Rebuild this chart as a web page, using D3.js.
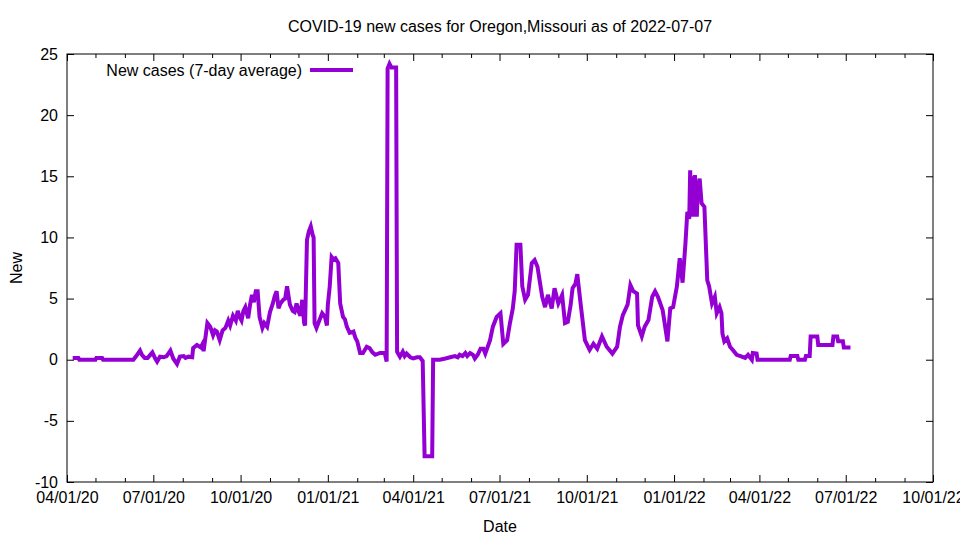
<!DOCTYPE html>
<html>
<head>
<meta charset="utf-8">
<script src="https://cdn.jsdelivr.net/npm/d3@7"></script>
<style>
  body { margin: 0; background: #fff; }
  text { font-family: "Liberation Sans", Arial, sans-serif; }
</style>
</head>
<body>
<div id="chart"></div>
<script>
// data (7-day average of new cases)
const dates = [
  "2020-04-07","2020-04-13","2020-04-14","2020-05-01","2020-05-02","2020-05-08","2020-05-09","2020-06-10",
  "2020-06-13","2020-06-17","2020-06-19","2020-06-22","2020-06-25","2020-06-30","2020-07-03","2020-07-05",
  "2020-07-08","2020-07-12","2020-07-15","2020-07-19","2020-07-22","2020-07-26","2020-07-29","2020-08-02",
  "2020-08-04","2020-08-07","2020-08-11","2020-08-12","2020-08-16","2020-08-20","2020-08-22","2020-08-23",
  "2020-08-27","2020-08-30","2020-09-02","2020-09-04","2020-09-06","2020-09-09","2020-09-12","2020-09-15",
  "2020-09-18","2020-09-20","2020-09-23","2020-09-26","2020-09-28","2020-09-30","2020-10-02","2020-10-04",
  "2020-10-06","2020-10-09","2020-10-11","2020-10-13","2020-10-15","2020-10-17","2020-10-19","2020-10-21",
  "2020-10-24","2020-10-26","2020-10-29","2020-11-01","2020-11-04","2020-11-06","2020-11-08","2020-11-10",
  "2020-11-12","2020-11-15","2020-11-17","2020-11-19","2020-11-22","2020-11-25","2020-11-27","2020-11-29",
  "2020-12-01","2020-12-03","2020-12-05","2020-12-07","2020-12-08","2020-12-10","2020-12-12","2020-12-14",
  "2020-12-16","2020-12-17","2020-12-18","2020-12-20","2020-12-22","2020-12-26","2020-12-29","2020-12-31",
  "2021-01-01","2021-01-03","2021-01-05","2021-01-07","2021-01-09","2021-01-12","2021-01-14","2021-01-17",
  "2021-01-19","2021-01-21","2021-01-24","2021-01-28","2021-01-30","2021-02-01","2021-02-04","2021-02-07",
  "2021-02-11","2021-02-14","2021-02-17","2021-02-20","2021-02-25","2021-03-02","2021-03-04","2021-03-05",
  "2021-03-07","2021-03-09","2021-03-14","2021-03-15","2021-03-18","2021-03-21","2021-03-23","2021-03-25",
  "2021-03-29","2021-04-01","2021-04-05","2021-04-08","2021-04-11","2021-04-13","2021-04-21","2021-04-22",
  "2021-04-29","2021-05-05","2021-05-10","2021-05-15","2021-05-18","2021-05-20","2021-05-23","2021-05-26",
  "2021-05-28","2021-05-31","2021-06-03","2021-06-05","2021-06-08","2021-06-11","2021-06-14","2021-06-16",
  "2021-06-21","2021-06-24","2021-06-28","2021-07-02","2021-07-05","2021-07-09","2021-07-12","2021-07-15",
  "2021-07-17","2021-07-19","2021-07-23","2021-07-25","2021-07-28","2021-07-31","2021-08-04","2021-08-07",
  "2021-08-10","2021-08-15","2021-08-18","2021-08-21","2021-08-25","2021-08-28","2021-09-01","2021-09-05",
  "2021-09-08","2021-09-11","2021-09-14","2021-09-16","2021-09-19","2021-09-21","2021-09-24","2021-09-29",
  "2021-10-04","2021-10-08","2021-10-12","2021-10-17","2021-10-22","2021-10-28","2021-11-02","2021-11-05",
  "2021-11-08","2021-11-13","2021-11-16","2021-11-19","2021-11-23","2021-11-24","2021-11-28","2021-12-01",
  "2021-12-05","2021-12-09","2021-12-12","2021-12-15","2021-12-20","2021-12-25","2021-12-28","2021-12-31",
  "2022-01-04","2022-01-07","2022-01-10","2022-01-13","2022-01-15","2022-01-17","2022-01-18","2022-01-19",
  "2022-01-20","2022-01-21","2022-01-23","2022-01-25","2022-01-26","2022-01-28","2022-01-30","2022-02-02",
  "2022-02-05","2022-02-07","2022-02-10","2022-02-13","2022-02-15","2022-02-18","2022-02-20","2022-02-21",
  "2022-02-23","2022-02-26","2022-03-01","2022-03-04","2022-03-08","2022-03-12","2022-03-17","2022-03-20",
  "2022-03-24","2022-03-25","2022-03-29","2022-03-30","2022-05-03","2022-05-04","2022-05-11","2022-05-12",
  "2022-05-19","2022-05-20","2022-05-24","2022-05-25","2022-06-01","2022-06-02","2022-06-17","2022-06-18",
  "2022-06-22","2022-06-23","2022-06-28","2022-06-29","2022-07-06"
];
const newCases = [
  0.15,0.15,0,0,0.15,0.15,0,0,
  0.3,0.75,0.4,0.15,0.15,0.6,0.1,-0.15,
  0.25,0.2,0.3,0.75,0.1,-0.35,0.25,0.3,
  0.15,0.25,0.2,0.95,1.2,1.0,1.3,0.7,
  3.0,2.7,2.0,2.4,2.3,1.6,2.4,2.6,
  3.2,2.8,3.6,3.2,4.0,3.5,3.2,4.0,
  4.3,3.4,4.5,5.3,4.7,5.6,5.6,3.5,
  2.6,3.0,2.7,3.9,4.6,5.2,5.6,4.2,
  4.6,4.9,5.0,6.0,4.5,4.0,3.9,4.6,
  4.0,3.6,4.9,3.0,2.8,9.8,10.5,10.9,
  10.2,10.0,3.0,2.6,3.0,3.8,3.5,2.8,
  4.5,6.0,8.4,8.2,8.3,7.9,4.6,3.5,
  3.3,2.7,2.2,2.3,1.8,1.5,0.55,0.55,
  1.06,0.95,0.6,0.4,0.55,0.55,-0.15,23.8,
  24.2,23.9,23.9,0.65,0.25,0.65,0.3,0.5,
  0.2,0.1,0.2,0.2,-0.1,-7.9,-7.9,0,
  0,0.1,0.2,0.3,0.2,0.4,0.3,0.55,
  0.3,0.55,0.4,0.1,0.4,0.9,0.9,0.5,
  1.6,2.7,3.5,3.8,1.3,1.6,3.0,4.2,
  5.6,9.4,9.4,6.0,4.9,5.3,7.9,8.15,
  7.6,5.15,4.3,5.3,4.2,5.85,4.6,5.3,
  3.0,3.1,4.5,5.85,6.2,7.0,4.9,1.6,
  0.8,1.3,0.9,1.9,1.06,0.5,1.06,2.7,
  3.65,4.5,6.1,5.6,5.4,2.8,1.9,2.7,
  3.25,5.15,5.6,5.15,4.05,1.5,4.2,4.3,
  6.0,8.3,6.3,9.5,12.1,11.5,15.5,11.8,
  15.0,11.7,15.1,11.7,14.0,14.8,12.8,12.5,
  6.5,6.0,4.6,5.15,3.8,4.3,3.8,2.15,
  1.5,1.75,1.06,0.8,0.4,0.3,0.15,0.4,
  0,0.55,0.5,0,0,0.3,0.3,0,
  0,0.3,0.3,1.9,1.9,1.2,1.2,1.9,
  1.9,1.5,1.5,1.0,1.0
];
const xTicks = ["2020-04-01","2020-07-01","2020-10-01","2021-01-01","2021-04-01","2021-07-01",
                "2021-10-01","2022-01-01","2022-04-01","2022-07-01","2022-10-01"];
const yTicks = [-10, -5, 0, 5, 10, 15, 20, 25];

const W = 960, H = 540;
const margin = {top: 54, right: 27, bottom: 58, left: 67};
const width = W - margin.left - margin.right;
const height = H - margin.top - margin.bottom;
const parse = d3.timeParse("%Y-%m-%d");
const color = "#9400d3";

const svg = d3.select("#chart").append("svg")
  .attr("width", W).attr("height", H);
const g = svg.append("g")
  .attr("transform", "translate(" + margin.left + "," + margin.top + ")");

const x = d3.scaleTime()
  .domain([parse(xTicks[0]), parse(xTicks[xTicks.length - 1])])
  .range([0, width]);
const y = d3.scaleLinear()
  .domain([yTicks[0], yTicks[yTicks.length - 1]])
  .range([height, 0]);

const majors = xTicks.map(parse);
const minors = d3.timeMonth.range(majors[0], majors[majors.length - 1])
  .filter(d => d.getMonth() % 3 !== 0);

// minor monthly ticks, bottom and top
g.append("g").attr("transform", "translate(0," + height + ")")
  .call(d3.axisBottom(x).tickValues(minors).tickSize(-4).tickFormat(""));
g.append("g")
  .call(d3.axisTop(x).tickValues(minors).tickSize(-4).tickFormat(""));

g.append("g").attr("transform", "translate(0," + height + ")")
  .call(d3.axisBottom(x).tickValues(majors).tickSize(-7).tickPadding(10)
    .tickFormat(d3.timeFormat("%m/%d/%y")));
g.append("g")
  .call(d3.axisTop(x).tickValues(majors).tickSize(-7).tickFormat(""));
g.append("g")
  .call(d3.axisLeft(y).tickValues(yTicks).tickSize(-7).tickPadding(9)
    .tickFormat(d => String(d)));
g.append("g").attr("transform", "translate(" + width + ",0)")
  .call(d3.axisRight(y).tickValues(yTicks).tickSize(-7).tickFormat(""));

g.selectAll(".tick text").attr("font-size", 16)
  .attr("font-family", "'Liberation Sans', Arial, sans-serif").attr("fill", "#000");
g.selectAll(".domain").remove();

g.append("rect").attr("width", width).attr("height", height)
  .attr("fill", "none").attr("stroke", "#000").attr("stroke-width", 1);

const line = d3.line()
  .x((d, i) => x(parse(dates[i])))
  .y(d => y(d));

g.append("path").datum(newCases)
  .attr("d", line)
  .attr("fill", "none")
  .attr("stroke", color)
  .attr("stroke-width", 4)
  .attr("stroke-linejoin", "miter");

// legend
g.append("text").attr("x", 235).attr("y", 22)
  .attr("text-anchor", "end").attr("font-size", 16)
  .text("New cases (7-day average)");
g.append("line").attr("x1", 243).attr("x2", 286).attr("y1", 16).attr("y2", 16)
  .attr("stroke", color).attr("stroke-width", 4);

// titles
svg.append("text").attr("x", margin.left + width / 2).attr("y", 32)
  .attr("text-anchor", "middle").attr("font-size", 16)
  .text("COVID-19 new cases for Oregon,Missouri as of 2022-07-07");
svg.append("text").attr("x", margin.left + width / 2).attr("y", 532)
  .attr("text-anchor", "middle").attr("font-size", 16)
  .text("Date");
svg.append("text")
  .attr("transform", "translate(22," + (margin.top + height / 2) + ") rotate(-90)")
  .attr("text-anchor", "middle").attr("font-size", 16)
  .text("New");
</script>
</body>
</html>
